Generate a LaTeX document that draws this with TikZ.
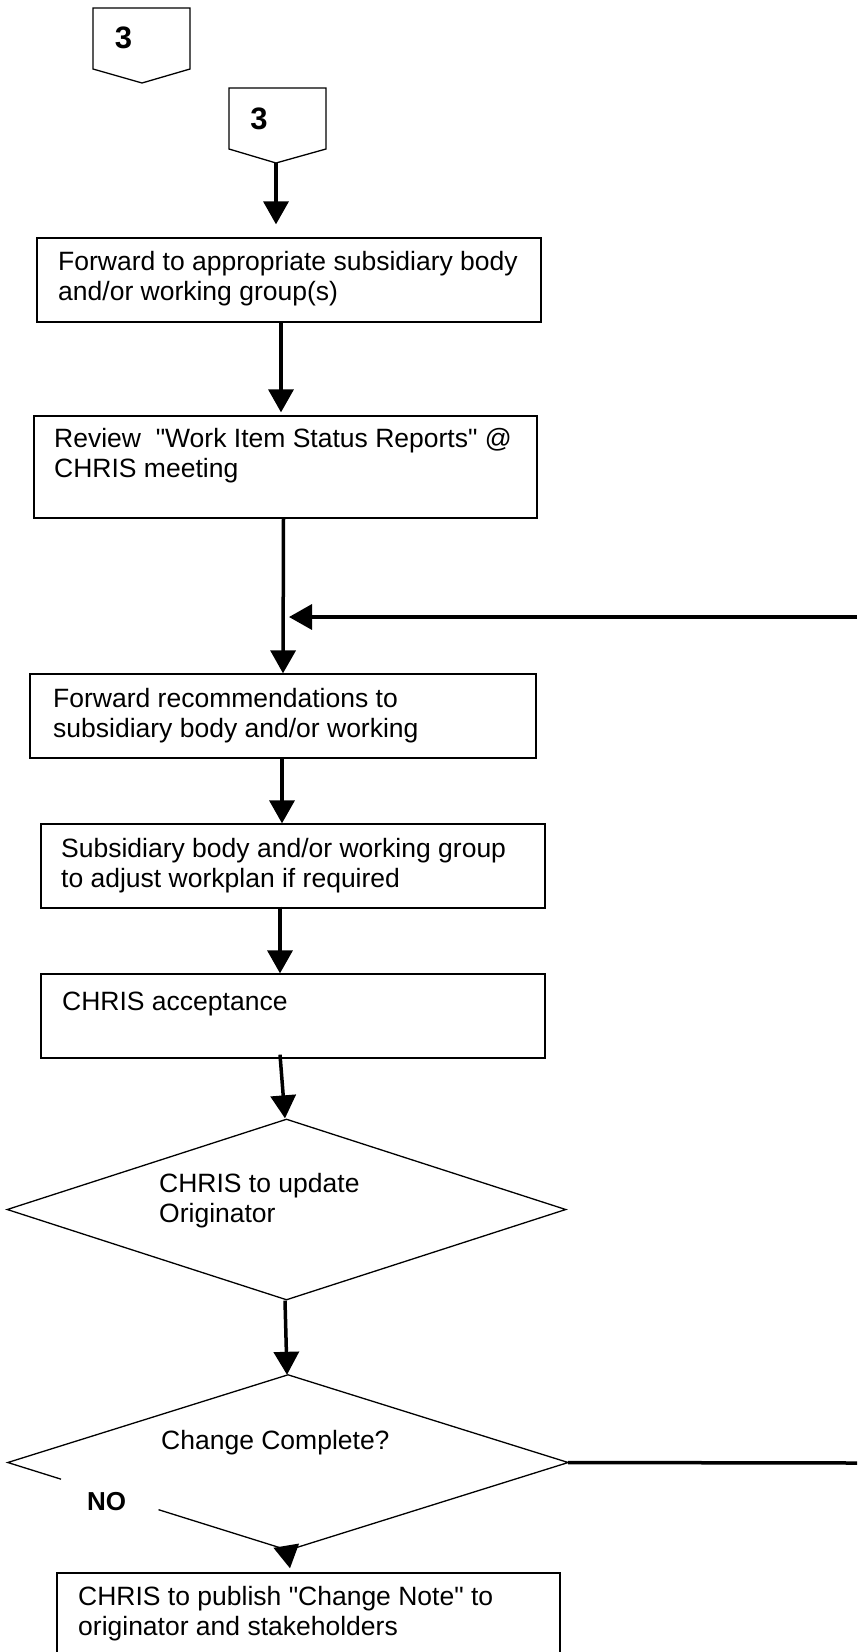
\documentclass[tikz,border=0pt]{standalone}
\usepackage{fontspec}
\setmainfont{Liberation Sans}
\usetikzlibrary{arrows.meta,shapes.geometric,calc}
\newcommand{\twolines}[2]{\begin{tabular}[t]{@{}l@{}}#1\\#2\end{tabular}}
\begin{document}
\begin{tikzpicture}[x=1pt,y=-1pt,
  box/.style={draw, line width=1.3pt, inner sep=0pt, rectangle},
  dia/.style={diamond, inner sep=0pt},
  txt/.style={inner sep=0pt, anchor=base west, font=\fontsize{26.5}{30}\selectfont},
  num/.style={inner sep=0pt, font=\fontsize{31}{34}\selectfont\bfseries},
  nolab/.style={inner sep=0pt, font=\fontsize{26}{29}\selectfont\bfseries},
  flow/.style={line width=3.5pt, -{Triangle[length=23pt,width=25pt]}},
  plain/.style={line width=3.5pt},
  outline/.style={line width=1.3pt, line join=miter}]
\useasboundingbox (0,0) rectangle (857,1652);
\clip (0,0) rectangle (857,1652);

% off-page connectors
\draw[outline] (93,8) -- (190,8) -- (190,69) -- (142,83) -- (93,69) -- cycle;
\node[num] (n1) at (123.5,38) {3};
\draw[outline] (229,88) -- (326,88) -- (326,149) -- (276,163) coordinate (p2tip) -- (229,149) -- cycle;
\node[num] (n2) at (259,118.5) {3};

% boxes
\node[box, minimum width=504pt, minimum height=84pt] (b1) at (289,280) {};
\node[box, minimum width=503pt, minimum height=102pt] (b2) at (285.5,467) {};
\node[box, minimum width=506pt, minimum height=84pt] (b3) at (283,716) {};
\node[box, minimum width=504pt, minimum height=84pt] (b4) at (293,866) {};
\node[box, minimum width=504pt, minimum height=84pt] (b5) at (293,1016) {};
\node[dia, draw, outline, minimum width=559pt, minimum height=181pt] (d1) at (286.5,1209.5) {};
\node[dia, minimum width=560pt, minimum height=175pt] (d2) at (288,1462.5) {};
\node[box, minimum width=503pt, minimum height=120pt] (b6) at (308.5,1633) {};

% diamond 2 outline with gap for the NO label
\draw[outline] ($(d2.west)!0.19!(d2.south)$) -- (d2.west) -- (d2.north) -- (d2.east) -- (d2.south) -- ($(d2.south)!0.462!(d2.west)$);

% texts
\node[txt] (t1) at (58,270) {\twolines{Forward to appropriate subsidiary body}{and/or working group(s)}};
\node[txt] (t2) at (54,447) {\twolines{Review\ \ \textquotedbl Work Item Status Reports\textquotedbl\ @}{CHRIS meeting}};
\node[txt] (t3) at (53,707) {\twolines{Forward recommendations to}{subsidiary body and/or working}};
\node[txt] (t4) at (61,857) {\twolines{Subsidiary body and/or working group}{to adjust workplan if required}};
\node[txt] (t5) at (62,1010) {CHRIS acceptance};
\node[txt] (t6) at (159,1192) {\twolines{CHRIS to update}{Originator}};
\node[txt] (t7) at (161,1449) {Change Complete?};
\node[nolab] (no) at (106.5,1501.5) {NO};
\node[txt] (t8) at (78,1605) {\twolines{CHRIS to publish \textquotedbl Change Note\textquotedbl\ to}{originator and stakeholders}};

% connectors
\coordinate (rin) at (857,617);
\coordinate (merge) at (289,617);
\coordinate (rout) at (857,1463);
\draw[flow, shorten >=13pt] (p2tip) -- ([xshift=-13pt]b1.north);
\draw[flow, shorten >=3pt] ([xshift=-8pt]b1.south) -- ([xshift=-4.5pt]b2.north);
\draw[flow] ([xshift=-2pt]b2.south) -- (b3.north);
\draw[flow] (rin) -- (merge);
\draw[flow] ([xshift=-1pt]b3.south) -- ([xshift=-11pt]b4.north);
\draw[flow] ([xshift=-13pt,yshift=2pt]b4.south) -- ([xshift=-13pt]b5.north);
\draw[flow] ([xshift=-13pt,yshift=4pt]b5.south) -- ([xshift=-1.5pt]d1.north);
\draw[flow] ([xshift=-1.5pt]d1.south) -- ([xshift=-1pt]d2.north);
\draw[flow] ([xshift=-1pt]d2.south) -- ([xshift=-18.5pt,yshift=4pt]b6.north);
\draw[plain] (d2.east) -- (rout);
\end{tikzpicture}
\end{document}
